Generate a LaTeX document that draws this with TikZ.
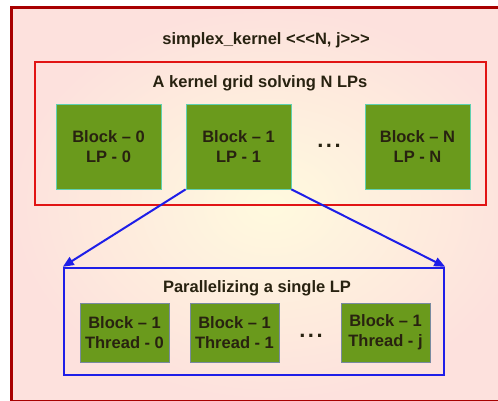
\documentclass[tikz,border=0pt]{standalone}
\usepackage{fontspec}
\setmainfont{Liberation Sans}[Ligatures=TeXOff]
\definecolor{FrameRed}{RGB}{168, 0, 0}
\definecolor{GridRed}{RGB}{225, 20, 20}
\definecolor{LPBlue}{RGB}{30, 30, 232}
\definecolor{BlockGreen}{RGB}{106, 154, 28}
\definecolor{BlockEdge}{RGB}{96, 208, 176}
\definecolor{ThreadEdge}{RGB}{120, 138, 160}
\definecolor{InkDark}{RGB}{40, 34, 16}
\definecolor{BgCenter}{RGB}{255, 250, 222}
\definecolor{BgEdge}{RGB}{253, 225, 221}
\usetikzlibrary{arrows.meta, positioning}

\tikzset{
    txt/.style={font=\fontsize{16.5}{20}\selectfont\bfseries, text=InkDark, align=center},
    dotsbox/.style={font=\fontsize{22}{22}\selectfont\bfseries, text=InkDark, inner sep=0pt},
    lpblock/.style={txt, fill=BlockGreen, draw=BlockEdge, line width=0.8pt, minimum width=105pt, minimum height=85pt, inner sep=0pt},
    thblock/.style={txt, fill=BlockGreen, draw=ThreadEdge, line width=0.8pt, minimum width=89pt, minimum height=59pt, inner sep=0pt},
    fan/.style={draw=LPBlue, line width=2pt, -{Triangle[length=11pt, width=9pt]}}
}

\begin{document}
\begin{tikzpicture}[x=1pt, y=-1pt]
    \useasboundingbox (0,0) rectangle (498,401);

    % Outer kernel frame
    \shade[inner color=BgCenter, outer color=BgEdge] (11,8) rectangle (530,401);
    \draw[FrameRed, line width=3pt] (530,8) -- (11,8) -- (11,401) -- (530,401);
    \node[txt] (kernel) at (266,40) {simplex\_kernel <<<N, j>>>};

    % Kernel grid
    \node[draw=GridRed, line width=1.6pt, minimum width=451pt, minimum height=143pt] (grid) at (260.5,133.5) {};
    \node[txt] (gridtitle) at (260,83) {A kernel grid solving N LPs};
    \node[lpblock] (blk0) at (108.5,146.5) {Block – 0\\LP - 0};
    \node[lpblock] (blk1) at (238.5,146.5) {Block – 1\\LP - 1};
    \node[lpblock] (blkN) at (417.5,146.5) {Block – N\\LP - N};
    \node[dotsbox] (gdots) at (329,146) {.\hspace{2.5pt}.\hspace{2.5pt}.};

    % Single LP
    \node[draw=LPBlue, line width=2.4pt, minimum width=380pt, minimum height=107pt] (single) at (254,321.5) {};
    \node[txt] (singletitle) at (257,288) {Parallelizing a single LP};
    \node[thblock] (th0) at (124.5,332.5) {Block – 1\\Thread - 0};
    \node[thblock] (th1) at (234.5,332.5) {Block – 1\\Thread - 1};
    \node[thblock] (thj) at (385.5,332.5) {Block – 1\\Thread - j};
    \node[dotsbox] (tdots) at (311,336) {.\hspace{2.5pt}.\hspace{2.5pt}.};

    % Fan out from Block 1
    \draw[fan] (blk1.south west) -- (single.north west);
    \draw[fan] (blk1.south east) -- (single.north east);
\end{tikzpicture}
\end{document}
